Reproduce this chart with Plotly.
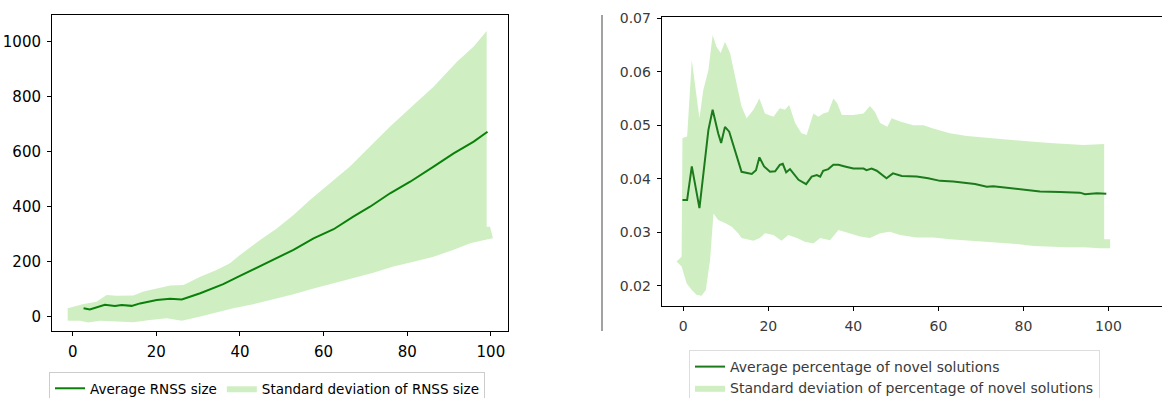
import plotly.graph_objects as go

# ---------------- Left chart: RNSS size ----------------
rnss_mean_x = [2.6, 4.1, 7.7, 10.1, 11.7, 14.1, 16.1, 20.1, 23.3, 26.1, 30.5, 36.0, 40.0, 46.4,
               52.8, 57.6, 62.4, 67.1, 71.1, 75.9, 80.7, 86.3, 91.1, 95.9, 99.2]
rnss_mean = [29, 25, 42, 38, 41, 38, 47, 59, 64, 61, 84, 117, 147, 193,
             242, 284, 317, 363, 399, 448, 490, 545, 593, 636, 672]

rnss_upper_x = [-1.2, 2.6, 5.7, 8.1, 10.5, 14.5, 16.9, 20.1, 23.3, 26.5, 30.5, 34.4, 37.6, 40.0,
                44.8, 48.8, 52.8, 56.8, 61.6, 66.3, 71.1, 75.9, 81.5, 86.3, 91.9, 95.9, 99.0,
                99.0, 99.8, 100.5]
rnss_upper = [29, 45, 53, 78, 75, 76, 90, 101, 112, 114, 144, 169, 193, 223,
              278, 320, 369, 424, 484, 545, 618, 691, 769, 836, 927, 982, 1039,
              326, 326, 288]

rnss_lower_x = [-1.2, 1.8, 3.7, 6.5, 10.5, 14.5, 18.5, 22.5, 26.1, 30.5, 34.4, 38.4, 43.2, 48.0,
                52.8, 57.6, 62.4, 67.1, 71.9, 76.7, 81.5, 86.3, 91.1, 95.1, 99.0, 100.5]
rnss_lower = [-16, -16, -23, -16, -19, -22, -13, -7, -16, -1, 13, 29, 44, 62,
              80, 101, 120, 138, 159, 181, 199, 217, 242, 266, 280, 284]

# ---------------- Right chart: novel solutions ----------------
novel_mean_x = [-0.2, 0.9, 2.0, 3.8, 5.9, 6.9, 8.2, 8.9, 9.8, 10.8, 13.7, 16.1, 17.1, 17.9, 19.0,
                20.4, 21.6, 22.7, 23.4, 24.2, 25.1, 27.1, 28.9, 30.2, 31.4, 32.2, 32.9, 34.1,
                35.3, 36.5, 38.0, 40.0, 42.4, 43.1, 44.3, 45.5, 47.8, 49.3, 51.4, 54.9, 57.6,
                60.4, 63.5, 66.7, 68.6, 71.4, 72.9, 76.1, 80.0, 83.9, 88.6, 91.8, 93.3, 94.5,
                97.3, 99.5]
novel_mean = [0.0360, 0.0360, 0.0423, 0.0345, 0.0491, 0.0529, 0.0485, 0.0467, 0.0497, 0.0488,
              0.0413, 0.0409, 0.0416, 0.0440, 0.0423, 0.0413, 0.0414, 0.0426, 0.0428, 0.0412,
              0.0418, 0.0398, 0.0390, 0.0404, 0.0407, 0.0404, 0.0415, 0.0418, 0.0426, 0.0426,
              0.0423, 0.0419, 0.0419, 0.0416, 0.0419, 0.0415, 0.0401, 0.0410, 0.0405, 0.0404,
              0.0401, 0.0396, 0.0395, 0.0391, 0.0390, 0.0385, 0.0386, 0.0383, 0.0379, 0.0376,
              0.0375, 0.0375, 0.0374, 0.0371, 0.0373, 0.0372]

novel_upper_x = [-1.6, -0.4, -0.2, 0.9, 2.0, 2.7, 3.8, 4.7, 5.9, 6.9, 7.8, 8.8, 9.8, 11.0, 12.2,
                 13.7, 14.9, 16.5, 17.9, 19.2, 21.2, 22.7, 23.9, 24.9, 26.3, 27.8, 29.0, 30.6,
                 31.8, 32.9, 34.1, 35.3, 36.2, 37.3, 40.0, 42.4, 43.9, 45.1, 46.3, 48.0, 49.0,
                 51.0, 54.1, 56.5, 58.8, 62.7, 66.7, 70.6, 74.5, 78.4, 82.4, 86.3, 90.2, 94.1,
                 99.0, 99.0, 100.4, 100.4]
novel_upper = [0.0245, 0.0254, 0.0476, 0.0479, 0.0622, 0.0578, 0.0513, 0.0566, 0.0603, 0.0669,
               0.0647, 0.0635, 0.0656, 0.0635, 0.0591, 0.0535, 0.0513, 0.0529, 0.0550, 0.0522,
               0.0516, 0.0532, 0.0529, 0.0538, 0.0504, 0.0485, 0.0482, 0.0522, 0.0516, 0.0522,
               0.0525, 0.0550, 0.0541, 0.0519, 0.0519, 0.0522, 0.0536, 0.0525, 0.0504, 0.0497,
               0.0513, 0.0507, 0.0500, 0.0500, 0.0494, 0.0485, 0.0480, 0.0477, 0.0474, 0.0471,
               0.0469, 0.0467, 0.0465, 0.0463, 0.0465, 0.0287, 0.0287, 0.0270]

novel_lower_x = [-1.6, -0.4, 0.8, 2.0, 3.1, 4.3, 5.3, 6.3, 7.1, 8.2, 9.8, 11.4, 12.9, 13.7, 16.5,
                 18.0, 19.2, 21.2, 23.1, 24.7, 26.7, 28.6, 30.6, 32.2, 34.5, 36.5, 38.8, 41.6,
                 43.9, 46.3, 48.6, 51.0, 54.9, 58.8, 62.7, 66.7, 70.6, 74.5, 78.4, 82.4, 86.3,
                 90.2, 94.1, 98.0, 100.4]
novel_lower = [0.0245, 0.0236, 0.0204, 0.0192, 0.0183, 0.0181, 0.0192, 0.0248, 0.0335, 0.0323,
               0.0317, 0.0310, 0.0298, 0.0289, 0.0284, 0.0289, 0.0298, 0.0295, 0.0284, 0.0295,
               0.0289, 0.0282, 0.0279, 0.0289, 0.0285, 0.0304, 0.0299, 0.0292, 0.0289, 0.0298,
               0.0301, 0.0295, 0.0290, 0.0290, 0.0287, 0.0285, 0.0282, 0.0280, 0.0278, 0.0274,
               0.0273, 0.0272, 0.0272, 0.0270, 0.0270]

left_yticks = [0, 200, 400, 600, 800, 1000]
right_yticks = [0.02, 0.03, 0.04, 0.05, 0.06, 0.07]
xticks = [0, 20, 40, 60, 80, 100]

BAND = "#cfefc3"
LINE_L = "#0a800a"
LINE_R = "#1c7a1c"

W, H = 1162, 398

fig = go.Figure()

fig.add_trace(go.Scatter(
    x=rnss_upper_x + rnss_lower_x[::-1], y=rnss_upper + rnss_lower[::-1],
    mode="lines", fill="toself", fillcolor=BAND, line=dict(width=0, color=BAND),
    name="Standard deviation of RNSS size", xaxis="x", yaxis="y", legend="legend",
    legendrank=2))
fig.add_trace(go.Scatter(
    x=rnss_mean_x, y=rnss_mean, mode="lines", name="Average RNSS size",
    line=dict(color=LINE_L, width=2), xaxis="x", yaxis="y", legend="legend",
    legendrank=1))

fig.add_trace(go.Scatter(
    x=novel_upper_x + novel_lower_x[::-1], y=novel_upper + novel_lower[::-1],
    mode="lines", fill="toself", fillcolor=BAND, line=dict(width=0, color=BAND),
    name="Standard deviation of percentage of novel solutions", xaxis="x2", yaxis="y2",
    legend="legend2", legendrank=2))
fig.add_trace(go.Scatter(
    x=novel_mean_x, y=novel_mean, mode="lines", name="Average percentage of novel solutions",
    line=dict(color=LINE_R, width=2), xaxis="x2", yaxis="y2", legend="legend2",
    legendrank=1))

axis_common = dict(showgrid=False, zeroline=False, showline=True, linecolor="black",
                   linewidth=1, ticks="outside", ticklen=4, tickcolor="black", tickwidth=1)

fig.update_layout(
    width=W, height=H,
    margin=dict(l=0, r=0, t=0, b=0, autoexpand=False),
    paper_bgcolor="white", plot_bgcolor="white",
    font=dict(family="DejaVu Sans", size=13, color="black"),
    xaxis=dict(domain=[52 / W, 508 / W], range=[-4.95, 104.1], tickvals=xticks,
               mirror=True, anchor="y", tickfont=dict(size=15, color="black"),
               ticklabelstandoff=3, **axis_common),
    yaxis=dict(domain=[1 - 331 / H, 1 - 15 / H], range=[-53.5, 1097], tickvals=left_yticks,
               mirror=True, anchor="x", tickfont=dict(size=15, color="black"),
               ticklabelstandoff=3, **axis_common),
    xaxis2=dict(domain=[661.7 / W, 1.0], range=[-5.08, 112.6], tickvals=xticks,
                mirror=True, anchor="y2", tickfont=dict(size=14, color="#3a3a3a"),
                ticklabelstandoff=3, **axis_common),
    yaxis2=dict(domain=[1 - 306 / H, 1 - 16.7 / H], range=[0.0162, 0.0703], tickvals=right_yticks,
                tickformat=".2f", mirror=False, anchor="x2",
                tickfont=dict(size=14, color="#3a3a3a"), ticklabelstandoff=3, **axis_common),
    legend=dict(orientation="h", x=49 / W, y=1 - 372 / H, xanchor="left", yanchor="top",
                bgcolor="white", bordercolor="#cccccc", borderwidth=1,
                font=dict(size=13.5, color="black"), traceorder="normal"),
    legend2=dict(orientation="v", x=689 / W, y=1 - 350 / H, xanchor="left", yanchor="top",
                 bgcolor="white", bordercolor="#dddddd", borderwidth=1,
                 font=dict(size=14, color="#3a3a3a"), traceorder="normal"),
    showlegend=True,
)

# cropped-edge artefact visible between the two panels in the reference
fig.add_shape(type="line", xref="paper", yref="paper", x0=602 / W, x1=602 / W,
              y0=1 - 331 / H, y1=1 - 15 / H, line=dict(color="#444444", width=1))

fig.write_html("out.html", config={"displayModeBar": False},
               post_script="document.body.style.margin='0px';document.body.style.overflow='hidden';")
